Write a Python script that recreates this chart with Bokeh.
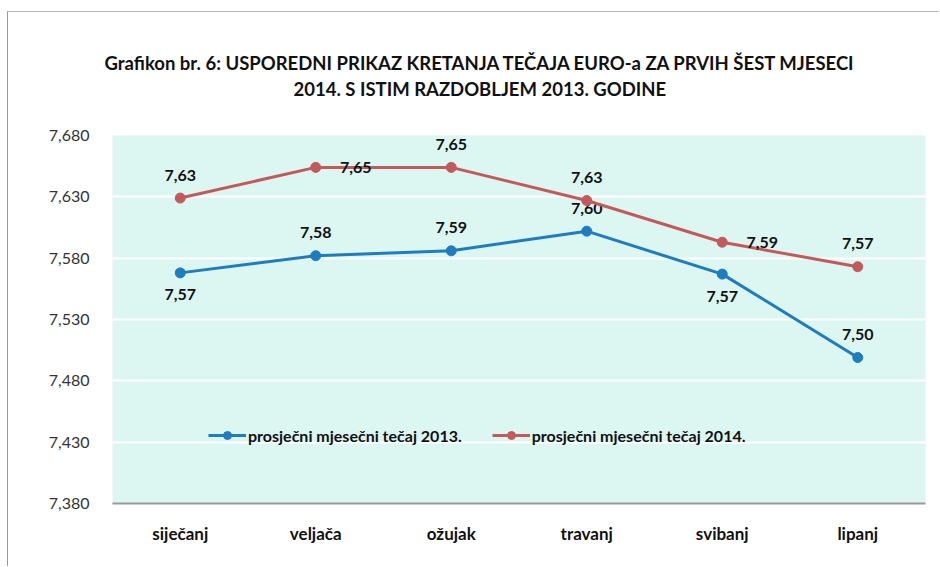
from bokeh.plotting import figure
from bokeh.models import (FactorRange, Range1d, FixedTicker, Legend, LegendItem, Title,
                          ColumnDataSource)
from bokeh.embed import file_html
from bokeh.resources import INLINE
from bokeh.core.properties import value

# ---- data ----
months = ["siječanj", "veljača", "ožujak", "travanj", "svibanj", "lipanj"]
rate_2013 = [7.568, 7.582, 7.586, 7.602, 7.567, 7.499]
rate_2014 = [7.629, 7.654, 7.654, 7.627, 7.593, 7.573]
place_2013 = ["below", "above", "above", "above", "below", "above"]
place_2014 = ["above", "right", "above", "above", "right", "above"]
series_names = ["prosječni mjesečni tečaj 2013.", "prosječni mjesečni tečaj 2014."]
y_ticks = [7.380, 7.430, 7.480, 7.530, 7.580, 7.630, 7.680]
y_tick_labels = ["7,380", "7,430", "7,480", "7,530", "7,580", "7,630", "7,680"]
title_lines = ["Grafikon br.  6:  USPOREDNI PRIKAZ KRETANJA TEČAJA EURO-a ZA PRVIH ŠEST MJESECI",
               "2014. S  ISTIM RAZDOBLJEM 2013. GODINE"]

FONT = "Lato"
BLUE = "#1f7dbf"
RED = "#c25a5c"

W, H = 932, 555
p = figure(width=W, height=H, x_range=FactorRange(*months, range_padding=0),
           y_range=Range1d(y_ticks[0], y_ticks[-1]),
           output_backend="svg", toolbar_location=None,
           min_border_left=104, min_border_right=15, min_border_top=123, min_border_bottom=64)
p.background_fill_color = "#dcf6f2"
p.border_fill_color = "white"
p.outline_line_color = None
p.styles = {"margin-left": "7px", "margin-top": "11px",
            "border-left": "1px solid #999", "border-top": "1px solid #bbb"}

# axes
p.yaxis.ticker = FixedTicker(ticks=y_ticks)
p.yaxis.major_label_overrides = dict(zip(y_ticks, y_tick_labels))
p.yaxis.axis_line_color = None
p.yaxis.major_tick_line_color = None
p.yaxis.minor_tick_line_color = None
p.yaxis.major_label_text_font = FONT
p.yaxis.major_label_text_font_size = "16px"
p.yaxis.major_label_text_color = "#333333"
p.yaxis.major_label_standoff = 17

p.xaxis.axis_line_color = "#999999"
p.xaxis.axis_line_width = 2
p.xaxis.major_tick_line_color = None
p.xaxis.minor_tick_line_color = None
p.xaxis.major_label_text_font = FONT
p.xaxis.major_label_text_font_style = "bold"
p.xaxis.major_label_text_font_size = "17px"
p.xaxis.major_label_text_color = "#111111"
p.xaxis.major_label_standoff = 13

p.xgrid.grid_line_color = None
p.ygrid.grid_line_color = "white"
p.ygrid.grid_line_width = 2

# series
offsets = {"above": (0, -23), "below": (0, 22), "right": (40, 0)}
items = []
for vals, places, color, name in [(rate_2013, place_2013, BLUE, series_names[0]),
                                  (rate_2014, place_2014, RED, series_names[1])]:
    src = ColumnDataSource(dict(
        x=months, y=vals,
        lab=[f"{v:.2f}".replace(".", ",") for v in vals],
        xo=[offsets[pl][0] for pl in places],
        yo=[offsets[pl][1] for pl in places]))
    ln = p.line("x", "y", source=src, line_color=color, line_width=3)
    sc = p.scatter("x", "y", source=src, size=10, fill_color=color, line_color=color)
    p.text("x", "y", text="lab", source=src, x_offset="xo", y_offset="yo",
           text_font=value(FONT), text_font_style="bold", text_font_size="16px",
           text_color="#111111", text_align="center", text_baseline="middle")
    items.append(LegendItem(label=name, renderers=[ln, sc]))

legend = Legend(items=items, orientation="horizontal", location=(96, 58),
                padding=0, margin=0, spacing=30, glyph_width=38, glyph_height=20,
                label_standoff=2, label_text_font=FONT, label_text_font_style="bold",
                label_text_font_size="16px", label_text_color="#111111",
                background_fill_alpha=0, border_line_alpha=0)
p.add_layout(legend, "center")

# title: spacer, then line 2, then line 1 (first added sits closest to the plot)
title_style = dict(align="left", text_font=FONT, text_font_style="bold",
                   text_font_size="18.5px", text_color="#111111")
p.add_layout(Title(text=" ", standoff=32, align="left", text_font_size="1px"), "above")
p.add_layout(Title(text=title_lines[1], offset=181, standoff=2, **title_style), "above")
p.add_layout(Title(text=title_lines[0], offset=-8, standoff=2, **title_style), "above")

open("out.html", "w").write(file_html(p, INLINE))
